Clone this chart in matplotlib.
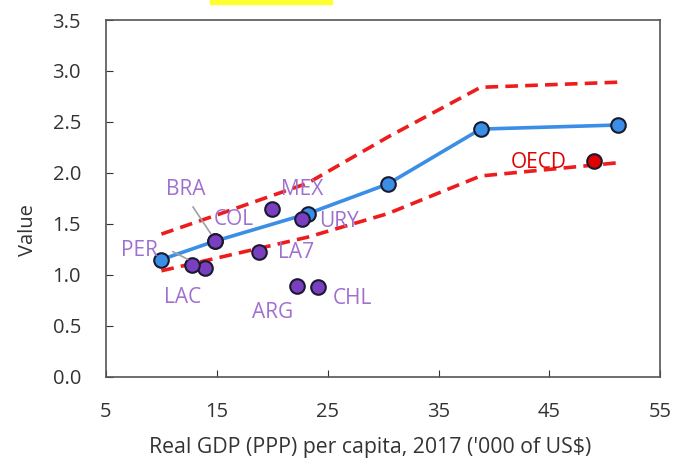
import matplotlib
matplotlib.use("Agg")
import matplotlib.pyplot as plt
from matplotlib.patches import Rectangle

plt.rcParams['font.family'] = ['Open Sans', 'DejaVu Sans']

# Fitted line and confidence band
fit_x = [10.0, 14.8, 23.2, 30.4, 38.8, 51.2]
fit_y = [1.15, 1.33, 1.60, 1.89, 2.43, 2.47]
upper_y = [1.40, 1.58, 1.90, 2.35, 2.84, 2.89]
lower_y = [1.04, 1.16, 1.37, 1.60, 1.97, 2.10]

# Countries
countries = ['LAC', 'PER', 'COL', 'MEX', 'URY', 'LA7', 'ARG', 'CHL']
cx = [13.9, 12.8, 14.8, 20.0, 22.7, 18.8, 22.2, 24.1]
cy = [1.07, 1.10, 1.33, 1.65, 1.55, 1.22, 0.89, 0.88]

oecd_x = [49.0]
oecd_y = [2.12]

fig = plt.figure(figsize=(6.73, 4.71), dpi=100)
ax = fig.add_axes([0.1575, 0.2, 0.8235, 0.7575])

ax.plot(fit_x, upper_y, color='#ee1c1c', lw=2.6, ls=(0, (3.5, 2)), zorder=2)
ax.plot(fit_x, lower_y, color='#ee1c1c', lw=2.6, ls=(0, (3.5, 2)), zorder=2)
ax.plot(fit_x, fit_y, color='#3a8ee6', lw=2.6, zorder=3)
ax.scatter(fit_x, fit_y, s=110, color='#3a8ee6', edgecolor='#1a1a2e', lw=1.5, zorder=4)
ax.scatter(cx, cy, s=110, color='#7a3fc0', edgecolor='#1a1a2e', lw=1.5, zorder=5)
ax.scatter(oecd_x, oecd_y, s=110, color='#e00000', edgecolor='#1a1a2e', lw=1.5, zorder=5)

lab_col = '#a070d0'
fs = 15
kw = dict(fontsize=fs, ha='left', va='center', zorder=6)
ax.text(10.2, 0.78, 'LAC', color=lab_col, **kw)
ax.text(6.35, 1.24, 'PER', color=lab_col, **kw)
ax.annotate('', xy=(12.6, 1.14), xytext=(10.8, 1.24),
            arrowprops=dict(arrowstyle='-', color='#a0a0a0', lw=1.2), zorder=6)
ax.text(14.7, 1.54, 'COL', color=lab_col, **kw)
ax.text(10.4, 1.84, 'BRA', color=lab_col, **kw)
ax.annotate('', xy=(14.6, 1.38), xytext=(12.7, 1.69),
            arrowprops=dict(arrowstyle='-', color='#a0a0a0', lw=1.2), zorder=6)
ax.text(20.8, 1.84, 'MEX', color=lab_col, **kw)
ax.text(24.2, 1.52, 'URY', color=lab_col, **kw)
ax.text(20.5, 1.22, 'LA7', color=lab_col, **kw)
ax.text(18.2, 0.63, 'ARG', color=lab_col, **kw)
ax.text(25.5, 0.77, 'CHL', color=lab_col, **kw)
ax.text(41.5, 2.10, 'OECD', color='#e00000', **kw)

ax.set_xlim(5, 55)
ax.set_ylim(0, 3.5)
ax.set_xticks([5, 15, 25, 35, 45, 55])
ax.set_yticks([0.0, 0.5, 1.0, 1.5, 2.0, 2.5, 3.0, 3.5])
ax.set_yticklabels([f'{v:.1f}' for v in [0.0, 0.5, 1.0, 1.5, 2.0, 2.5, 3.0, 3.5]])
ax.tick_params(direction='in', length=5, labelsize=14.5, colors='#333333')
ax.tick_params(axis='y', pad=18)
ax.tick_params(axis='x', pad=18)
for s in ax.spines.values():
    s.set_color('#555555')
    s.set_linewidth(1.2)

ax.set_xlabel("Real GDP (PPP) per capita, 2017 ('000 of US$)", fontsize=15.3, color='#333333')
ax.xaxis.set_label_coords(0.4765, -0.168)
ax.set_ylabel('Value', fontsize=14.5, color='#333333')
ax.yaxis.set_label_coords(-0.122, 0.41)

# cropped title highlight remnant
fig.patches.append(Rectangle((210/673, 1 - 4/471), 122/673, 4/471, transform=fig.transFigure,
                             color='#ffff30', zorder=0))

fig.savefig('out.png', dpi=100)
